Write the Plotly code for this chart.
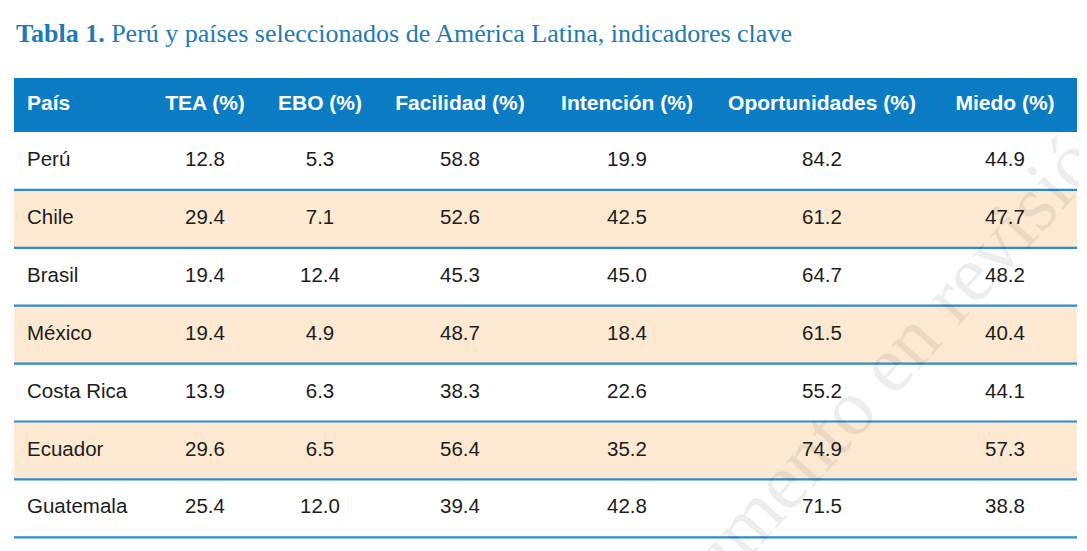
import plotly.graph_objects as go

# ── datos de la tabla ─────────────────────────────────────────────────────────
columnas = ["País", "TEA (%)", "EBO (%)", "Facilidad (%)", "Intención (%)",
            "Oportunidades (%)", "Miedo (%)"]
paises = ["Perú", "Chile", "Brasil", "México", "Costa Rica", "Ecuador", "Guatemala"]
tea = [12.8, 29.4, 19.4, 19.4, 13.9, 29.6, 25.4]
ebo = [5.3, 7.1, 12.4, 4.9, 6.3, 6.5, 12.0]
facilidad = [58.8, 52.6, 45.3, 48.7, 38.3, 56.4, 39.4]
intencion = [19.9, 42.5, 45.0, 18.4, 22.6, 35.2, 42.8]
oportunidades = [84.2, 61.2, 64.7, 61.5, 55.2, 74.9, 71.5]
miedo = [44.9, 47.7, 48.2, 40.4, 44.1, 57.3, 38.8]

titulo = "<b>Tabla 1.</b> Perú y países seleccionados de América Latina, indicadores clave"

# ── geometría (px de pantalla; la página añade 8px de margen) ─────────────────
W, H = 1087, 551
OFF = 8
X0, X1 = 14, 1077
HEAD_TOP, HEAD_BOT = 78, 132
ROW_H = 57.9
COL_X = [27, 205, 320, 460, 627, 822, 1005]

AZUL_HEAD = "#0b7cc4"
AZUL_LINEA = "#2a8bd0"
DURAZNO = "#fde9d2"
TEXTO = "#1c1c1c"
FUENTE = "Liberation Sans, Arial, sans-serif"

valores = [tea, ebo, facilidad, intencion, oportunidades, miedo]
y_rows = [HEAD_BOT + ROW_H * (i + 0.5) for i in range(len(paises))]
y_head = (HEAD_TOP + HEAD_BOT) / 2

fig = go.Figure()

shapes = [dict(type="rect", xref="x", yref="y", x0=X0, x1=X1, y0=HEAD_TOP, y1=HEAD_BOT,
               fillcolor=AZUL_HEAD, line_width=0, layer="below")]
for i in range(len(paises)):
    top = HEAD_BOT + ROW_H * i
    if i % 2 == 1:
        shapes.append(dict(type="rect", xref="x", yref="y", x0=X0, x1=X1,
                           y0=top, y1=top + ROW_H, fillcolor=DURAZNO,
                           line_width=0, layer="below"))
for i in range(1, len(paises) + 1):
    yb = HEAD_BOT + ROW_H * i
    shapes.append(dict(type="line", xref="x", yref="y", x0=X0, x1=X1, y0=yb, y1=yb,
                       line=dict(color=AZUL_LINEA, width=2.2)))

# encabezados
for j, col in enumerate(columnas):
    fig.add_trace(go.Scatter(
        x=[COL_X[j]], y=[y_head], mode="text", text=[f"<b>{col}</b>"],
        textposition="middle right" if j == 0 else "middle center",
        textfont=dict(family=FUENTE, size=21, color="white"),
        hoverinfo="skip", showlegend=False))

# columna de países
fig.add_trace(go.Scatter(
    x=[COL_X[0]] * len(paises), y=y_rows, mode="text", text=paises,
    textposition="middle right",
    textfont=dict(family=FUENTE, size=20.5, color=TEXTO),
    hoverinfo="skip", showlegend=False))

# columnas numéricas
for j, serie in enumerate(valores, start=1):
    fig.add_trace(go.Scatter(
        x=[COL_X[j]] * len(serie), y=y_rows, mode="text",
        text=[f"{v:.1f}" for v in serie], textposition="middle center",
        textfont=dict(family=FUENTE, size=20.5, color=TEXTO),
        hoverinfo="skip", showlegend=False))

fig.update_layout(
    width=W, height=H, margin=dict(l=0, r=0, t=0, b=0),
    paper_bgcolor="white", plot_bgcolor="white",
    xaxis=dict(range=[OFF, W + OFF], visible=False, fixedrange=True),
    yaxis=dict(range=[H + OFF, OFF], visible=False, fixedrange=True),
    shapes=shapes,
    annotations=[
        dict(text=titulo, x=X0, y=33, xref="x", yref="y", xanchor="left", yanchor="middle",
             showarrow=False,
             font=dict(family="Liberation Serif, Times New Roman, serif", size=26,
                       color="#2079b8")),
        dict(text="Documento en revisión", x=860, y=395, xref="x", yref="y",
             showarrow=False, textangle=-48,
             font=dict(family="Liberation Serif, Times New Roman, serif", size=80,
                       color="rgba(0,0,0,0.07)")),
    ],
)

fig.write_html("out.html")
